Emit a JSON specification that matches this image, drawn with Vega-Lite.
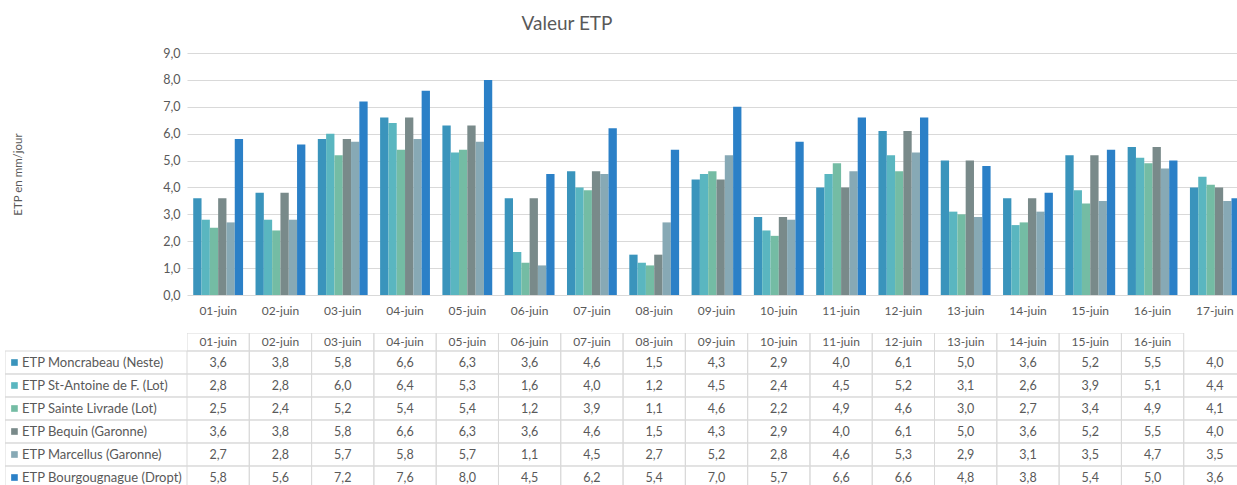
{
  "$schema": "https://vega.github.io/schema/vega-lite/v6.json",
  "padding": {"top": 15, "left": 5, "right": 0, "bottom": 0},
  "config": {
    "view": {"stroke": null},
    "font": "Lato",
    "locale": {"number": {"decimal": ",", "thousands": " ", "grouping": [3], "currency": ["", " €"]}},
    "text": {"font": "Lato", "fontSize": 12, "color": "#595959"}
  },
  "datasets": {
    "etp": [
      {"date": "01-juin", "station": "ETP Moncrabeau (Neste)", "etp": 3.6},
      {"date": "01-juin", "station": "ETP St-Antoine de F. (Lot)", "etp": 2.8},
      {"date": "01-juin", "station": "ETP Sainte Livrade (Lot)", "etp": 2.5},
      {"date": "01-juin", "station": "ETP Bequin (Garonne)", "etp": 3.6},
      {"date": "01-juin", "station": "ETP Marcellus (Garonne)", "etp": 2.7},
      {"date": "01-juin", "station": "ETP Bourgougnague (Dropt)", "etp": 5.8},
      {"date": "02-juin", "station": "ETP Moncrabeau (Neste)", "etp": 3.8},
      {"date": "02-juin", "station": "ETP St-Antoine de F. (Lot)", "etp": 2.8},
      {"date": "02-juin", "station": "ETP Sainte Livrade (Lot)", "etp": 2.4},
      {"date": "02-juin", "station": "ETP Bequin (Garonne)", "etp": 3.8},
      {"date": "02-juin", "station": "ETP Marcellus (Garonne)", "etp": 2.8},
      {"date": "02-juin", "station": "ETP Bourgougnague (Dropt)", "etp": 5.6},
      {"date": "03-juin", "station": "ETP Moncrabeau (Neste)", "etp": 5.8},
      {"date": "03-juin", "station": "ETP St-Antoine de F. (Lot)", "etp": 6.0},
      {"date": "03-juin", "station": "ETP Sainte Livrade (Lot)", "etp": 5.2},
      {"date": "03-juin", "station": "ETP Bequin (Garonne)", "etp": 5.8},
      {"date": "03-juin", "station": "ETP Marcellus (Garonne)", "etp": 5.7},
      {"date": "03-juin", "station": "ETP Bourgougnague (Dropt)", "etp": 7.2},
      {"date": "04-juin", "station": "ETP Moncrabeau (Neste)", "etp": 6.6},
      {"date": "04-juin", "station": "ETP St-Antoine de F. (Lot)", "etp": 6.4},
      {"date": "04-juin", "station": "ETP Sainte Livrade (Lot)", "etp": 5.4},
      {"date": "04-juin", "station": "ETP Bequin (Garonne)", "etp": 6.6},
      {"date": "04-juin", "station": "ETP Marcellus (Garonne)", "etp": 5.8},
      {"date": "04-juin", "station": "ETP Bourgougnague (Dropt)", "etp": 7.6},
      {"date": "05-juin", "station": "ETP Moncrabeau (Neste)", "etp": 6.3},
      {"date": "05-juin", "station": "ETP St-Antoine de F. (Lot)", "etp": 5.3},
      {"date": "05-juin", "station": "ETP Sainte Livrade (Lot)", "etp": 5.4},
      {"date": "05-juin", "station": "ETP Bequin (Garonne)", "etp": 6.3},
      {"date": "05-juin", "station": "ETP Marcellus (Garonne)", "etp": 5.7},
      {"date": "05-juin", "station": "ETP Bourgougnague (Dropt)", "etp": 8.0},
      {"date": "06-juin", "station": "ETP Moncrabeau (Neste)", "etp": 3.6},
      {"date": "06-juin", "station": "ETP St-Antoine de F. (Lot)", "etp": 1.6},
      {"date": "06-juin", "station": "ETP Sainte Livrade (Lot)", "etp": 1.2},
      {"date": "06-juin", "station": "ETP Bequin (Garonne)", "etp": 3.6},
      {"date": "06-juin", "station": "ETP Marcellus (Garonne)", "etp": 1.1},
      {"date": "06-juin", "station": "ETP Bourgougnague (Dropt)", "etp": 4.5},
      {"date": "07-juin", "station": "ETP Moncrabeau (Neste)", "etp": 4.6},
      {"date": "07-juin", "station": "ETP St-Antoine de F. (Lot)", "etp": 4.0},
      {"date": "07-juin", "station": "ETP Sainte Livrade (Lot)", "etp": 3.9},
      {"date": "07-juin", "station": "ETP Bequin (Garonne)", "etp": 4.6},
      {"date": "07-juin", "station": "ETP Marcellus (Garonne)", "etp": 4.5},
      {"date": "07-juin", "station": "ETP Bourgougnague (Dropt)", "etp": 6.2},
      {"date": "08-juin", "station": "ETP Moncrabeau (Neste)", "etp": 1.5},
      {"date": "08-juin", "station": "ETP St-Antoine de F. (Lot)", "etp": 1.2},
      {"date": "08-juin", "station": "ETP Sainte Livrade (Lot)", "etp": 1.1},
      {"date": "08-juin", "station": "ETP Bequin (Garonne)", "etp": 1.5},
      {"date": "08-juin", "station": "ETP Marcellus (Garonne)", "etp": 2.7},
      {"date": "08-juin", "station": "ETP Bourgougnague (Dropt)", "etp": 5.4},
      {"date": "09-juin", "station": "ETP Moncrabeau (Neste)", "etp": 4.3},
      {"date": "09-juin", "station": "ETP St-Antoine de F. (Lot)", "etp": 4.5},
      {"date": "09-juin", "station": "ETP Sainte Livrade (Lot)", "etp": 4.6},
      {"date": "09-juin", "station": "ETP Bequin (Garonne)", "etp": 4.3},
      {"date": "09-juin", "station": "ETP Marcellus (Garonne)", "etp": 5.2},
      {"date": "09-juin", "station": "ETP Bourgougnague (Dropt)", "etp": 7.0},
      {"date": "10-juin", "station": "ETP Moncrabeau (Neste)", "etp": 2.9},
      {"date": "10-juin", "station": "ETP St-Antoine de F. (Lot)", "etp": 2.4},
      {"date": "10-juin", "station": "ETP Sainte Livrade (Lot)", "etp": 2.2},
      {"date": "10-juin", "station": "ETP Bequin (Garonne)", "etp": 2.9},
      {"date": "10-juin", "station": "ETP Marcellus (Garonne)", "etp": 2.8},
      {"date": "10-juin", "station": "ETP Bourgougnague (Dropt)", "etp": 5.7},
      {"date": "11-juin", "station": "ETP Moncrabeau (Neste)", "etp": 4.0},
      {"date": "11-juin", "station": "ETP St-Antoine de F. (Lot)", "etp": 4.5},
      {"date": "11-juin", "station": "ETP Sainte Livrade (Lot)", "etp": 4.9},
      {"date": "11-juin", "station": "ETP Bequin (Garonne)", "etp": 4.0},
      {"date": "11-juin", "station": "ETP Marcellus (Garonne)", "etp": 4.6},
      {"date": "11-juin", "station": "ETP Bourgougnague (Dropt)", "etp": 6.6},
      {"date": "12-juin", "station": "ETP Moncrabeau (Neste)", "etp": 6.1},
      {"date": "12-juin", "station": "ETP St-Antoine de F. (Lot)", "etp": 5.2},
      {"date": "12-juin", "station": "ETP Sainte Livrade (Lot)", "etp": 4.6},
      {"date": "12-juin", "station": "ETP Bequin (Garonne)", "etp": 6.1},
      {"date": "12-juin", "station": "ETP Marcellus (Garonne)", "etp": 5.3},
      {"date": "12-juin", "station": "ETP Bourgougnague (Dropt)", "etp": 6.6},
      {"date": "13-juin", "station": "ETP Moncrabeau (Neste)", "etp": 5.0},
      {"date": "13-juin", "station": "ETP St-Antoine de F. (Lot)", "etp": 3.1},
      {"date": "13-juin", "station": "ETP Sainte Livrade (Lot)", "etp": 3.0},
      {"date": "13-juin", "station": "ETP Bequin (Garonne)", "etp": 5.0},
      {"date": "13-juin", "station": "ETP Marcellus (Garonne)", "etp": 2.9},
      {"date": "13-juin", "station": "ETP Bourgougnague (Dropt)", "etp": 4.8},
      {"date": "14-juin", "station": "ETP Moncrabeau (Neste)", "etp": 3.6},
      {"date": "14-juin", "station": "ETP St-Antoine de F. (Lot)", "etp": 2.6},
      {"date": "14-juin", "station": "ETP Sainte Livrade (Lot)", "etp": 2.7},
      {"date": "14-juin", "station": "ETP Bequin (Garonne)", "etp": 3.6},
      {"date": "14-juin", "station": "ETP Marcellus (Garonne)", "etp": 3.1},
      {"date": "14-juin", "station": "ETP Bourgougnague (Dropt)", "etp": 3.8},
      {"date": "15-juin", "station": "ETP Moncrabeau (Neste)", "etp": 5.2},
      {"date": "15-juin", "station": "ETP St-Antoine de F. (Lot)", "etp": 3.9},
      {"date": "15-juin", "station": "ETP Sainte Livrade (Lot)", "etp": 3.4},
      {"date": "15-juin", "station": "ETP Bequin (Garonne)", "etp": 5.2},
      {"date": "15-juin", "station": "ETP Marcellus (Garonne)", "etp": 3.5},
      {"date": "15-juin", "station": "ETP Bourgougnague (Dropt)", "etp": 5.4},
      {"date": "16-juin", "station": "ETP Moncrabeau (Neste)", "etp": 5.5},
      {"date": "16-juin", "station": "ETP St-Antoine de F. (Lot)", "etp": 5.1},
      {"date": "16-juin", "station": "ETP Sainte Livrade (Lot)", "etp": 4.9},
      {"date": "16-juin", "station": "ETP Bequin (Garonne)", "etp": 5.5},
      {"date": "16-juin", "station": "ETP Marcellus (Garonne)", "etp": 4.7},
      {"date": "16-juin", "station": "ETP Bourgougnague (Dropt)", "etp": 5.0},
      {"date": "17-juin", "station": "ETP Moncrabeau (Neste)", "etp": 4.0},
      {"date": "17-juin", "station": "ETP St-Antoine de F. (Lot)", "etp": 4.4},
      {"date": "17-juin", "station": "ETP Sainte Livrade (Lot)", "etp": 4.1},
      {"date": "17-juin", "station": "ETP Bequin (Garonne)", "etp": 4.0},
      {"date": "17-juin", "station": "ETP Marcellus (Garonne)", "etp": 3.5},
      {"date": "17-juin", "station": "ETP Bourgougnague (Dropt)", "etp": 3.6}
    ],
    "stations": [
      {"station": "ETP Moncrabeau (Neste)"},
      {"station": "ETP St-Antoine de F. (Lot)"},
      {"station": "ETP Sainte Livrade (Lot)"},
      {"station": "ETP Bequin (Garonne)"},
      {"station": "ETP Marcellus (Garonne)"},
      {"station": "ETP Bourgougnague (Dropt)"}
    ],
    "headers": [
      {"date": "01-juin"}, {"date": "02-juin"}, {"date": "03-juin"}, {"date": "04-juin"},
      {"date": "05-juin"}, {"date": "06-juin"}, {"date": "07-juin"}, {"date": "08-juin"},
      {"date": "09-juin"}, {"date": "10-juin"}, {"date": "11-juin"}, {"date": "12-juin"},
      {"date": "13-juin"}, {"date": "14-juin"}, {"date": "15-juin"}, {"date": "16-juin"}
    ]
  },
  "spacing": 17,
  "vconcat": [
    {
      "bounds": "flush",
      "spacing": 0,
      "hconcat": [
        {
          "width": 182,
          "height": 242,
          "data": {"values": []},
          "mark": {"type": "point", "opacity": 0}
        },
        {
          "title": {"text": "Valeur ETP", "anchor": "middle", "dx": -145, "fontSize": 19, "font": "Lato", "fontWeight": "normal", "color": "#595959", "offset": 13},
          "width": 1050,
          "height": 242,
          "data": {"name": "etp"},
          "mark": {"type": "bar", "clip": true},
          "encoding": {
            "x": {
              "field": "date", "type": "nominal",
              "scale": {"domain": ["01-juin","02-juin","03-juin","04-juin","05-juin","06-juin","07-juin","08-juin","09-juin","10-juin","11-juin","12-juin","13-juin","14-juin","15-juin","16-juin","17-juin"], "range": [0, 1059], "paddingInner": 0.2, "paddingOuter": 0.1},
              "axis": {"title": null, "labelAngle": 0, "domain": false, "ticks": false, "labelPadding": 10, "labelFontSize": 12, "labelColor": "#595959", "labelFont": "Lato"}
            },
            "xOffset": {
              "field": "station", "type": "nominal",
              "scale": {"domain": ["ETP Moncrabeau (Neste)","ETP St-Antoine de F. (Lot)","ETP Sainte Livrade (Lot)","ETP Bequin (Garonne)","ETP Marcellus (Garonne)","ETP Bourgougnague (Dropt)"], "paddingInner": 0, "paddingOuter": 0}
            },
            "y": {
              "field": "etp", "type": "quantitative",
              "scale": {"domain": [0, 9], "nice": false},
              "axis": {
                "title": "ETP en mm/jour", "titleFont": "Lato", "titleFontSize": 11.5, "titleFontWeight": "normal", "titleColor": "#595959", "titlePadding": 134,
                "values": [0,1,2,3,4,5,6,7,8,9], "format": ".1f",
                "grid": true, "gridColor": "#d9d9d9", "domain": false, "ticks": false,
                "labelPadding": 7, "labelFontSize": 12.5, "labelColor": "#595959", "labelFont": "Lato",
                "minExtent": 30, "maxExtent": 30
              }
            },
            "color": {
              "field": "station", "type": "nominal",
              "scale": {"domain": ["ETP Moncrabeau (Neste)","ETP St-Antoine de F. (Lot)","ETP Sainte Livrade (Lot)","ETP Bequin (Garonne)","ETP Marcellus (Garonne)","ETP Bourgougnague (Dropt)"], "range": ["#3a94bc","#5ab6c0","#74bca4","#798a8a","#87a9b5","#2b80c7"]},
              "legend": null
            }
          }
        }
      ]
    },
    {
      "bounds": "flush",
      "spacing": 0,
      "hconcat": [
        {
          "width": 182,
          "height": 152,
          "data": {"name": "stations"},
          "encoding": {
            "y": {
              "field": "station", "type": "nominal",
              "scale": {"domain": ["ETP Moncrabeau (Neste)","ETP St-Antoine de F. (Lot)","ETP Sainte Livrade (Lot)","ETP Bequin (Garonne)","ETP Marcellus (Garonne)","ETP Bourgougnague (Dropt)"], "range": [18, 156], "paddingInner": 0, "paddingOuter": 0},
              "axis": null
            }
          },
          "layer": [
            {"mark": {"type": "rect", "filled": false, "color": "#d9d9d9", "strokeWidth": 1, "clip": true}},
            {
              "mark": {"type": "point", "shape": "square", "filled": true, "size": 44, "opacity": 1, "clip": true},
              "encoding": {
                "x": {"datum": "label", "type": "nominal", "bandPosition": 0.052, "scale": {"type": "band", "domain": ["label"], "paddingInner": 0, "paddingOuter": 0}, "axis": null},
                "color": {"field": "station", "type": "nominal", "legend": null}
              }
            },
            {
              "mark": {"type": "text", "align": "left", "baseline": "middle", "dx": 17, "fontSize": 13, "color": "#595959", "clip": true},
              "encoding": {
                "x": {"datum": "label", "type": "nominal", "bandPosition": 0, "axis": null},
                "text": {"field": "station"}
              }
            }
          ]
        },
        {
          "width": 1050,
          "height": 152,
          "resolve": {"scale": {"y": "independent"}},
          "layer": [
            {
              "data": {"name": "etp"},
              "encoding": {
                "x": {
                  "field": "date", "type": "nominal",
                  "scale": {"domain": ["01-juin","02-juin","03-juin","04-juin","05-juin","06-juin","07-juin","08-juin","09-juin","10-juin","11-juin","12-juin","13-juin","14-juin","15-juin","16-juin","17-juin"], "range": [0, 1059], "paddingInner": 0, "paddingOuter": 0},
                  "axis": null
                },
                "y": {
                  "field": "station", "type": "nominal",
                  "scale": {"domain": ["ETP Moncrabeau (Neste)","ETP St-Antoine de F. (Lot)","ETP Sainte Livrade (Lot)","ETP Bequin (Garonne)","ETP Marcellus (Garonne)","ETP Bourgougnague (Dropt)"], "range": [18, 156], "paddingInner": 0, "paddingOuter": 0},
                  "axis": null
                }
              },
              "layer": [
                {"mark": {"type": "rect", "filled": false, "color": "#d9d9d9", "strokeWidth": 1, "clip": true}},
                {
                  "mark": {"type": "text", "align": "center", "baseline": "middle", "fontSize": 12.5, "color": "#595959", "clip": true},
                  "encoding": {"text": {"field": "etp", "type": "quantitative", "format": ".1f"}}
                }
              ]
            },
            {
              "data": {"name": "headers"},
              "encoding": {
                "x": {"field": "date", "type": "nominal", "axis": null},
                "y": {"datum": "h", "type": "nominal", "scale": {"domain": ["h"], "range": [0, 18], "paddingInner": 0, "paddingOuter": 0}, "axis": null}
              },
              "layer": [
                {"mark": {"type": "rect", "filled": false, "color": "#d9d9d9", "strokeWidth": 1, "clip": true}},
                {
                  "mark": {"type": "text", "align": "center", "baseline": "middle", "fontSize": 12, "color": "#595959", "clip": true},
                  "encoding": {"text": {"field": "date", "type": "nominal"}}
                }
              ]
            }
          ]
        }
      ]
    }
  ]
}
